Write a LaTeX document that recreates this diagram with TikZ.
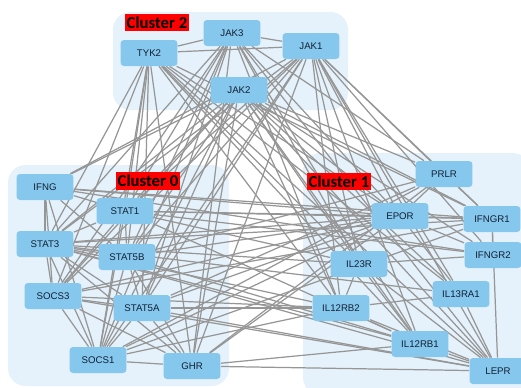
\documentclass[tikz,border=0pt]{standalone}
\usepackage{fontspec}
\setmainfont{Liberation Sans}
\newfontfamily\clufont{Carlito}
\usepackage{xcolor}
\usetikzlibrary{positioning}

\definecolor{nodeblue}{RGB}{133,199,237}
\definecolor{clubg}{RGB}{229,242,251}
\definecolor{linkgray}{RGB}{150,150,150}
\definecolor{txtnavy}{RGB}{20,32,50}

\pgfdeclarelayer{back}
\pgfdeclarelayer{links}
\pgfsetlayers{back,links,main}

\begin{document}
\begin{tikzpicture}[x=0.02cm, y=-0.02cm,
  gene/.style={fill=nodeblue, rounded corners=2pt, minimum width=1.14cm, minimum height=0.52cm,
               inner sep=1pt, text=txtnavy, font=\fontsize{5.5}{6}\selectfont},
  tag/.style={fill=red, inner sep=0pt, minimum width=1.28cm, minimum height=0.35cm,
              font=\clufont\fontsize{9.5}{10}\bfseries},
  link/.style={draw=linkgray, line width=0.7pt}
]
\useasboundingbox (0,0) rectangle (521,387);

% cluster backgrounds
\begin{pgfonlayer}{back}
\fill[clubg, rounded corners=10pt] (113,12) rectangle (348,110);
\fill[clubg, rounded corners=10pt] (8,165) rectangle (229,386);
\fill[clubg, rounded corners=10pt] (303,153) rectangle (530,395);
\end{pgfonlayer}

% cluster 2
\node[gene] (jak3) at (232,33) {JAK3};
\node[gene] (tyk2) at (149,53) {TYK2};
\node[gene] (jak1) at (311,46) {JAK1};
\node[gene] (jak2) at (239,90) {JAK2};

% cluster 0
\node[gene] (ifng) at (45,187) {IFNG};
\node[gene] (stat1) at (125,211) {STAT1};
\node[gene] (stat3) at (45,244) {STAT3};
\node[gene] (stat5b) at (127,257) {STAT5B};
\node[gene] (socs3) at (53,296) {SOCS3};
\node[gene] (stat5a) at (142,308) {STAT5A};
\node[gene] (socs1) at (98,360) {SOCS1};
\node[gene] (ghr) at (192,366) {GHR};

% cluster 1
\node[gene] (prlr) at (444,174) {PRLR};
\node[gene] (epor) at (400,216) {EPOR};
\node[gene] (ifngr1) at (492,219) {IFNGR1};
\node[gene] (ifngr2) at (493,255) {IFNGR2};
\node[gene] (il23r) at (359,264) {IL23R};
\node[gene] (il13ra1) at (461,294) {IL13RA1};
\node[gene] (il12rb2) at (341,308) {IL12RB2};
\node[gene] (il12rb1) at (420,344) {IL12RB1};
\node[gene] (lepr) at (498,371) {LEPR};

% cluster tags
\node[tag] (c2) at (157,22.5) {Cluster 2};
\node[tag] (c0) at (148,181) {Cluster 0};
\node[tag] (c1) at (339,181.5) {Cluster 1};

% interactions
\begin{pgfonlayer}{links}
\foreach \a/\b in {tyk2/jak3, tyk2/jak1, jak3/jak1,
  jak1/stat1, jak1/stat3, jak1/stat5a, jak1/stat5b, jak1/socs1, jak1/socs3, jak1/ghr, jak1/ifng,
  jak1/ifngr1, jak1/ifngr2, jak1/il23r, jak1/il12rb2, jak1/il12rb1, jak1/il13ra1, jak1/lepr, jak1/epor, jak1/prlr,
  jak2/stat1, jak2/stat3, jak2/stat5a, jak2/stat5b, jak2/socs1, jak2/socs3, jak2/ghr, jak2/ifng,
  jak2/epor, jak2/prlr, jak2/ifngr1, jak2/ifngr2, jak2/il23r, jak2/il12rb2, jak2/il12rb1, jak2/il13ra1, jak2/lepr,
  jak3/stat1, jak3/stat3, jak3/stat5a, jak3/stat5b, jak3/socs1, jak3/socs3, jak3/ghr,
  jak3/epor, jak3/il23r, jak3/il12rb2, jak3/il12rb1, jak3/prlr, jak3/lepr,
  tyk2/stat1, tyk2/stat3, tyk2/stat5a, tyk2/stat5b, tyk2/socs1, tyk2/socs3, tyk2/ghr,
  tyk2/ifngr1, tyk2/il23r, tyk2/il12rb2, tyk2/il12rb1, tyk2/il13ra1, tyk2/epor, tyk2/lepr}
  \draw[link] (\a) -- (\b);
\foreach \a/\b in {ifng/stat1, ifng/stat3, ifng/socs3, ifng/socs1, ifng/stat5b,
  stat1/stat3, stat1/stat5b, stat1/socs3, stat1/socs1, stat3/stat5b, stat3/socs3, stat3/socs1,
  stat3/stat5a, stat3/ghr, stat5b/stat5a, stat5b/ghr, stat5b/socs1, socs3/stat5a, socs3/socs1,
  socs3/ghr, stat5a/socs1, stat5a/ghr, socs1/ghr}
  \draw[link] (\a) -- (\b);
\foreach \a/\b in {prlr/epor, prlr/ifngr1, epor/ifngr1, epor/ifngr2, ifngr1/ifngr2, epor/il13ra1,
  il23r/il12rb1, il23r/il12rb2, il23r/ifngr2, il12rb2/il12rb1, il12rb2/il13ra1, il12rb2/lepr,
  il12rb1/lepr, il13ra1/lepr, ifngr1/lepr, il23r/lepr}
  \draw[link] (\a) -- (\b);
\foreach \a/\b in {ifng/ifngr1, ifng/ifngr2, ifng/epor, stat1/ifngr1, stat1/ifngr2, stat1/il12rb1,
  stat1/il23r, stat1/epor, stat3/il23r, stat3/il12rb2, stat3/lepr, stat3/epor, stat3/ifngr1,
  stat3/il13ra1, stat3/il12rb1, stat5b/epor, stat5b/prlr, stat5b/il12rb1, stat5a/epor, stat5a/prlr,
  stat5a/il12rb2, stat5a/lepr, socs3/lepr, socs3/epor, socs3/ifngr1, socs3/il12rb2, socs1/ifngr1,
  socs1/epor, socs1/prlr, socs1/il12rb2, ghr/prlr, ghr/il12rb1, ghr/lepr, ghr/epor}
  \draw[link] (\a) -- (\b);
\end{pgfonlayer}
\end{tikzpicture}
\end{document}
